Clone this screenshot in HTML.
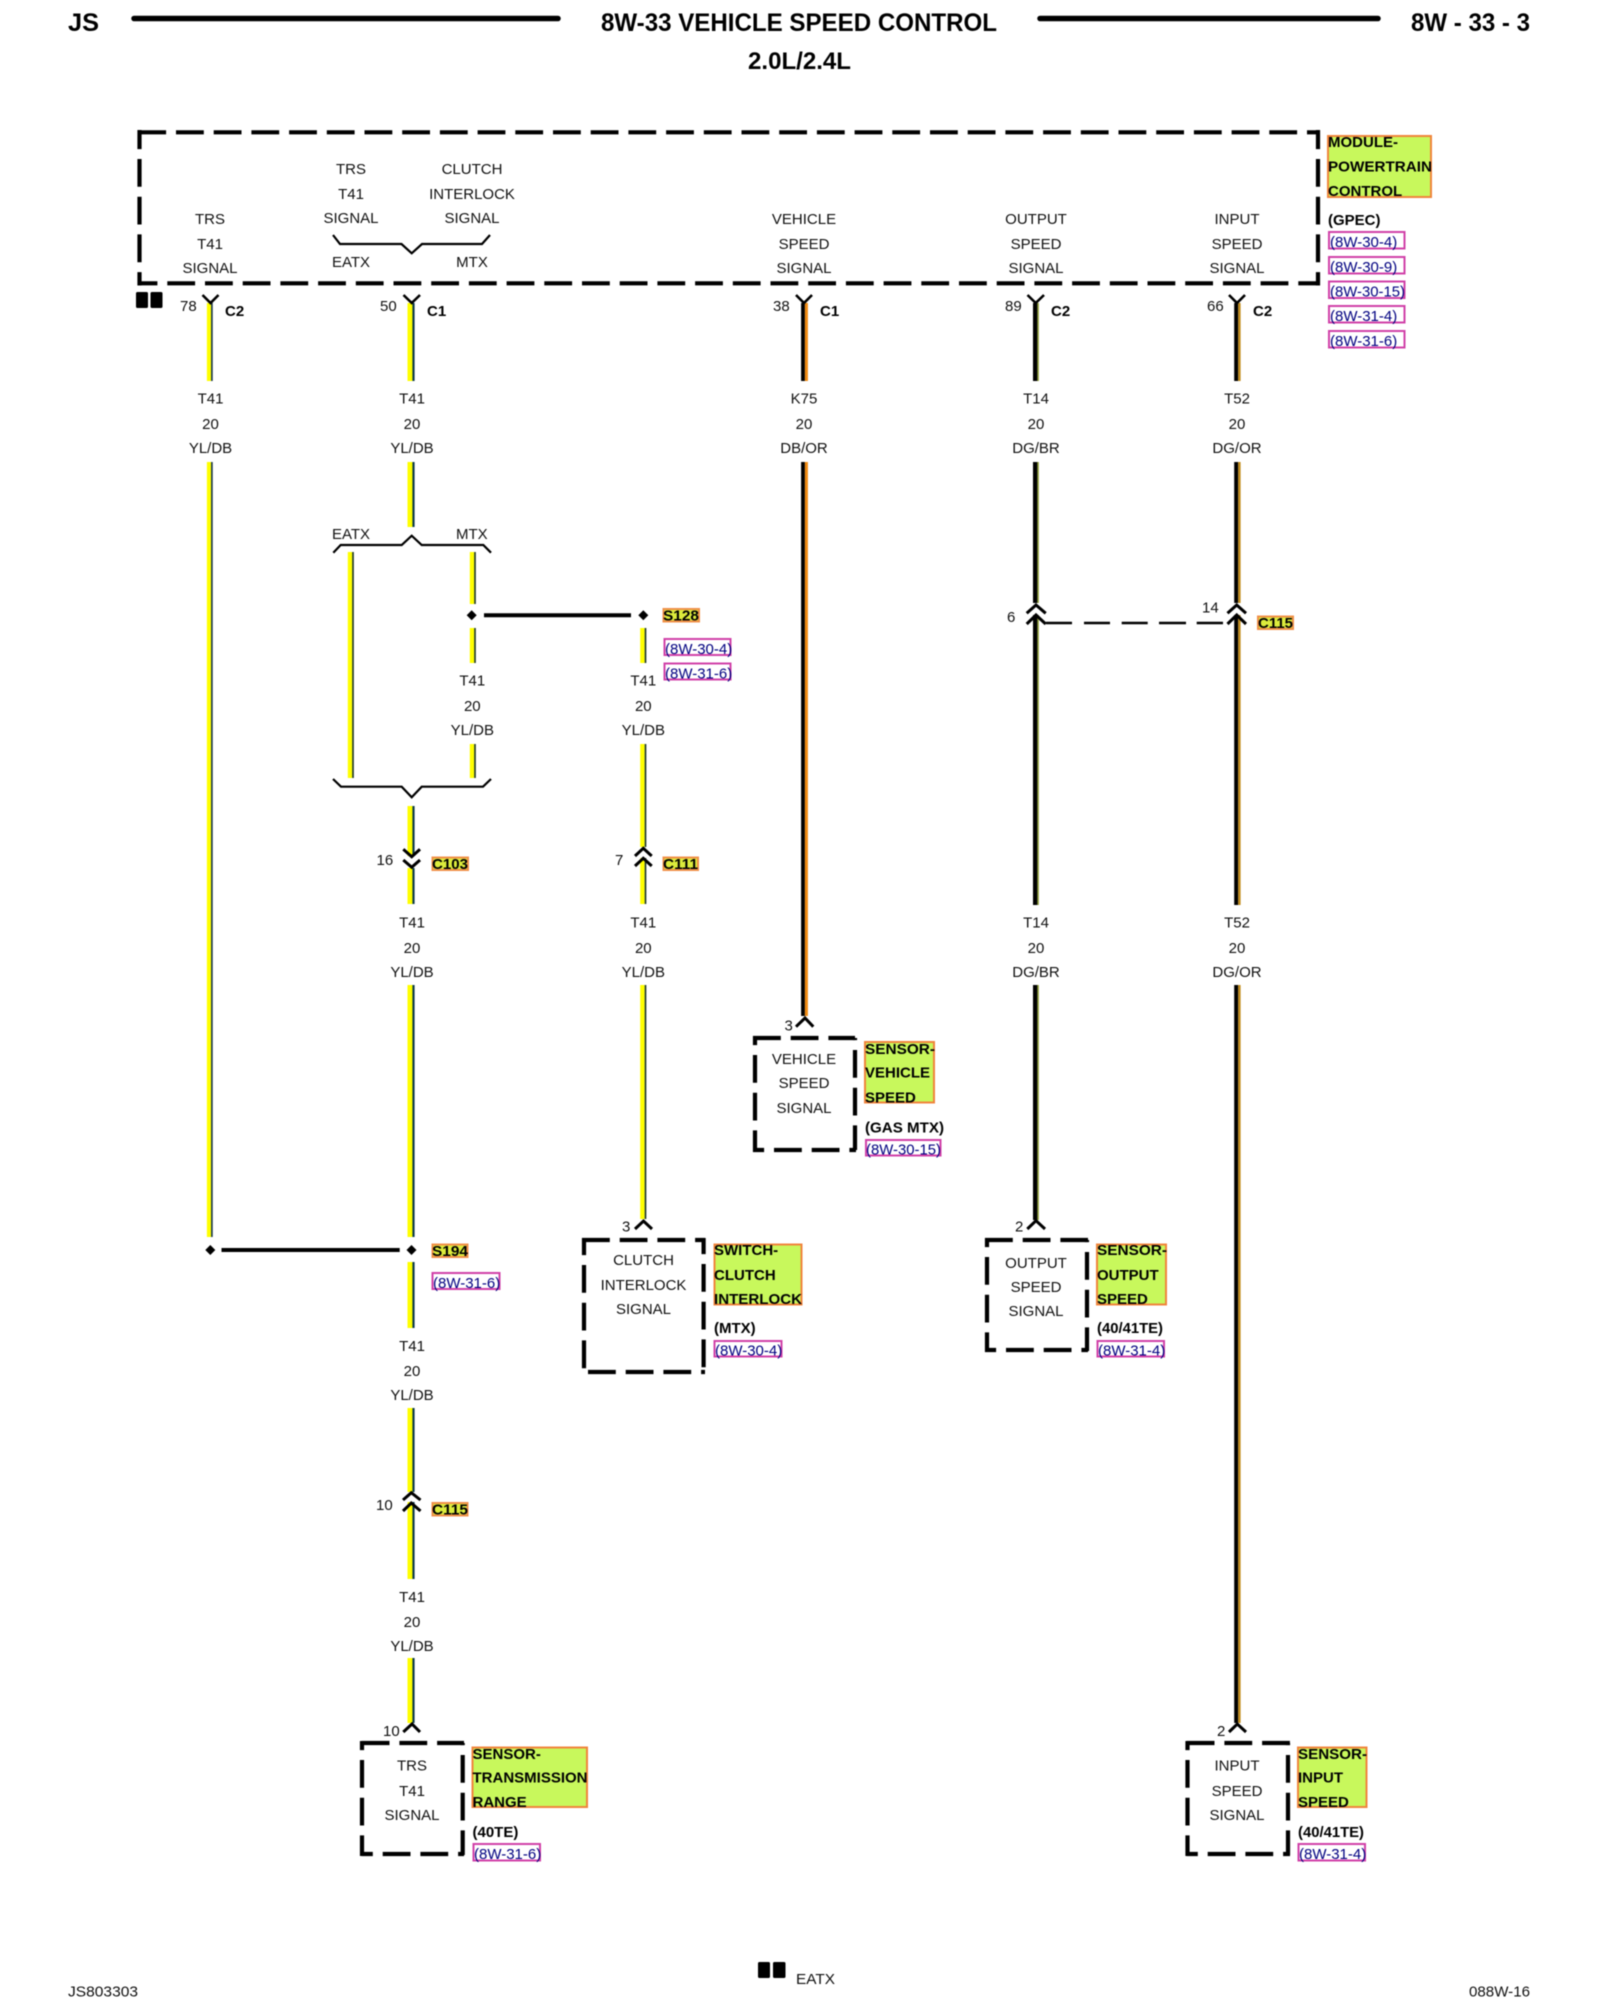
<!DOCTYPE html>
<html lang="en"><head><meta charset="utf-8"><title>8W-33 Vehicle Speed Control</title>
<style>
html,body{margin:0;padding:0;background:#fff}
svg{display:block;filter:blur(.45px)}
text{font-family:"Liberation Sans",sans-serif;font-size:15px;fill:#111}
.m{text-anchor:middle}
.b{font-weight:bold;fill:#000}
.r{fill:#000080}
.h{fill:#c8f85c;stroke:#f0843c;stroke-width:2}
.s{fill:#dcec3c;stroke:#f09048;stroke-width:2}
.f{fill:#fff;stroke:#d040a8;stroke-width:2}
.d{stroke:#000;stroke-width:4.2;stroke-dasharray:27.8 9.9;fill:none}
.c{stroke:#000;stroke-width:3;fill:none}
.k{stroke:#000;stroke-width:2.2;fill:none}
</style></head><body>
<svg width="1600" height="2000" viewBox="0 0 1600 2000" xmlns="http://www.w3.org/2000/svg">
<rect width="1600" height="2000" fill="#fff"/>

<!-- header -->
<line x1="134" y1="18.5" x2="558" y2="18.5" stroke="#000" stroke-width="5.5" stroke-linecap="round"/>
<line x1="1040" y1="18.5" x2="1378" y2="18.5" stroke="#000" stroke-width="5.5" stroke-linecap="round"/>
<text class="b" x="68" y="31" style="font-size:25px" textLength="31" lengthAdjust="spacingAndGlyphs">JS</text>
<text class="b" x="601" y="31" style="font-size:25px" textLength="396" lengthAdjust="spacingAndGlyphs">8W-33 VEHICLE SPEED CONTROL</text>
<text class="b" x="748" y="69" style="font-size:24px" textLength="103" lengthAdjust="spacingAndGlyphs">2.0L/2.4L</text>
<text class="b" x="1411" y="31" style="font-size:25px" textLength="119" lengthAdjust="spacingAndGlyphs">8W - 33 - 3</text>

<!-- module box -->
<line class="d" x1="138.3" y1="132.3" x2="1320" y2="132.3"/>
<line class="d" x1="138" y1="283.3" x2="1320" y2="283.3" style="stroke-dashoffset:8.4"/>
<line class="d" x1="139.5" y1="130" x2="139.5" y2="285.5" style="stroke-dashoffset:8.7"/>
<line class="d" x1="1318" y1="130" x2="1318" y2="285.5" style="stroke-dashoffset:8.7"/>
<rect x="136" y="292" width="12" height="16" rx="1.5"/>
<rect x="150.5" y="292" width="12" height="16" rx="1.5"/>

<g class="m">
<text class="m" x="210" y="224">TRS</text><text class="m" x="210" y="249">T41</text><text class="m" x="210" y="273">SIGNAL</text>
<text class="m" x="351" y="174">TRS</text><text class="m" x="351" y="199">T41</text><text class="m" x="351" y="223">SIGNAL</text>
<text class="m" x="472" y="174">CLUTCH</text><text class="m" x="472" y="199">INTERLOCK</text><text class="m" x="472" y="223">SIGNAL</text>
<text class="m" x="351" y="267">EATX</text><text class="m" x="472" y="267">MTX</text>
<text class="m" x="804" y="224">VEHICLE</text><text class="m" x="804" y="249">SPEED</text><text class="m" x="804" y="273">SIGNAL</text>
<text class="m" x="1036" y="224">OUTPUT</text><text class="m" x="1036" y="249">SPEED</text><text class="m" x="1036" y="273">SIGNAL</text>
<text class="m" x="1237" y="224">INPUT</text><text class="m" x="1237" y="249">SPEED</text><text class="m" x="1237" y="273">SIGNAL</text>
</g>
<path class="k" d="M333 235L340 244H401.5L411.7 253.3L422 244H482L490 235"/>

<!-- module labels -->
<rect class="h" x="1328" y="136" width="103" height="61"/>
<text class="b" x="1328" y="147">MODULE-</text>
<text class="b" x="1328" y="171.7" textLength="104" lengthAdjust="spacingAndGlyphs">POWERTRAIN</text>
<text class="b" x="1328" y="196">CONTROL</text>
<text class="b" x="1328" y="225">(GPEC)</text>
<rect class="f" x="1329" y="232" width="75.5" height="16.5"/><text class="r" x="1330" y="247">(8W-30-4)</text>
<rect class="f" x="1329" y="257" width="75.5" height="16.5"/><text class="r" x="1330" y="272">(8W-30-9)</text>
<rect class="f" x="1329" y="281.5" width="75.5" height="16.5"/><text class="r" x="1330" y="296.5" textLength="75" lengthAdjust="spacingAndGlyphs">(8W-30-15)</text>
<rect class="f" x="1329" y="306" width="75.5" height="16.5"/><text class="r" x="1330" y="321">(8W-31-4)</text>
<rect class="f" x="1329" y="331" width="75.5" height="16.5"/><text class="r" x="1330" y="346">(8W-31-6)</text>

<!-- wires: yellow -->
<path stroke="#ffff00" stroke-width="4.2" fill="none" d="M209 303V381M209 462V1237"/>
<path stroke="#123040" stroke-width="1.6" fill="none" d="M211.9 303V381M211.9 462V1237"/>
<path stroke="#ffff00" stroke-width="5" fill="none" d="M410 303V381M410 462V527M410 806V856M410 868V904M410 985V1237M410 1262V1328M410 1408V1492M410 1502V1579M410 1658V1723"/>
<path stroke="#0c3a48" stroke-width="2.2" fill="none" d="M413.5 303V381M413.5 462V527M413.5 806V856M413.5 868V904M413.5 985V1237M413.5 1262V1328M413.5 1408V1492M413.5 1502V1579M413.5 1658V1723"/>
<path stroke="#ffff00" stroke-width="4.4" fill="none" d="M350 552V778M472 552V604M472 628V663M472 744V778M642.4 628V663M642.4 744V847M642.4 858V904M642.4 985V1219"/>
<path stroke="#163218" stroke-width="1.6" fill="none" d="M353 552V778M475 552V604M475 628V663M475 744V778M645.5 628V663M645.5 744V847M645.5 858V904M645.5 985V1219"/>
<!-- wire 3 DB/OR -->
<path stroke="#000" stroke-width="3.8" fill="none" d="M803 303V381M803 462V1016"/>
<path stroke="#f08a10" stroke-width="3" fill="none" d="M806.4 303V381M806.4 462V1016"/>
<!-- wire 4 DG/BR -->
<path stroke="#000" stroke-width="4.4" fill="none" d="M1035.2 303V381M1035.2 462V603M1035.2 615V905M1035.2 985V1220"/>
<path stroke="#8a9a30" stroke-width="1.4" fill="none" d="M1038.1 303V381M1038.1 462V603M1038.1 615V905M1038.1 985V1220"/>
<!-- wire 5 DG/OR -->
<path stroke="#000" stroke-width="4" fill="none" d="M1236.2 303V381M1236.2 462V603M1236.2 615V905M1236.2 985V1723"/>
<path stroke="#c08a18" stroke-width="2.4" fill="none" d="M1239.4 303V381M1239.4 462V603M1239.4 615V905M1239.4 985V1723"/>

<!-- top Y connectors -->
<path class="k" d="M202.5 295L210.5 303L218.5 295M403.5 295L411.7 303L420 295M796 295L804 303L812 295M1027.5 295L1035.7 303L1044 295M1229 295L1237 303L1245 295" style="stroke-width:2.6"/>
<text x="180" y="311">78</text><text x="380" y="311">50</text><text x="773" y="311">38</text><text x="1005" y="311">89</text><text x="1207" y="311">66</text>
<text class="b" x="225" y="316">C2</text><text class="b" x="427" y="316">C1</text><text class="b" x="820" y="316">C1</text><text class="b" x="1051" y="316">C2</text><text class="b" x="1253" y="316">C2</text>

<!-- wire labels row 1 -->
<text class="m" x="210.5" y="403.5">T41</text><text class="m" x="210.5" y="429">20</text><text class="m" x="210.5" y="453">YL/DB</text>
<text class="m" x="412" y="403.5">T41</text><text class="m" x="412" y="429">20</text><text class="m" x="412" y="453">YL/DB</text>
<text class="m" x="804" y="403.5">K75</text><text class="m" x="804" y="429">20</text><text class="m" x="804" y="453">DB/OR</text>
<text class="m" x="1036" y="403.5">T14</text><text class="m" x="1036" y="429">20</text><text class="m" x="1036" y="453">DG/BR</text>
<text class="m" x="1237" y="403.5">T52</text><text class="m" x="1237" y="429">20</text><text class="m" x="1237" y="453">DG/OR</text>

<!-- EATX/MTX braces -->
<text x="332" y="539">EATX</text><text x="456" y="539">MTX</text>
<path class="k" d="M333.3 552.7L340.7 545H401.7L411.7 535.7L421.7 545H483.3L491 552.7"/>
<path class="k" d="M333 779L341 786.7H401.7L411.7 797.3L421.7 786.7H483L491 779"/>

<!-- S128 splice -->
<polygon points="471.7,610.3 476.7,615.3 471.7,620.3 466.7,615.3"/>
<polygon points="643.3,610.3 648.3,615.3 643.3,620.3 638.3,615.3"/>
<line x1="484" y1="615.3" x2="631" y2="615.3" stroke="#000" stroke-width="4"/>
<rect class="s" x="663.5" y="609" width="35.5" height="12.5"/><text class="b" x="663" y="620.5" textLength="36" lengthAdjust="spacingAndGlyphs">S128</text>
<rect class="f" x="664.5" y="639" width="66" height="16"/><text class="r" x="665" y="654">(8W-30-4)</text>
<rect class="f" x="664.5" y="663.5" width="66" height="16"/><text class="r" x="665" y="678.5">(8W-31-6)</text>

<text class="m" x="472.3" y="685.5">T41</text><text class="m" x="472.3" y="711">20</text><text class="m" x="472.3" y="735">YL/DB</text>
<text class="m" x="643.3" y="685.5">T41</text><text class="m" x="643.3" y="711">20</text><text class="m" x="643.3" y="735">YL/DB</text>

<!-- C103 -->
<path class="c" d="M403.3 849.3L411.7 856.7L420 849.3M403.3 860L411.7 867.3L420 860"/>
<text x="376.5" y="865">16</text>
<rect class="s" x="432.5" y="857.5" width="35.5" height="12.5"/><text class="b" x="432" y="869" textLength="36" lengthAdjust="spacingAndGlyphs">C103</text>
<!-- C111 -->
<path class="c" d="M635 856L643.3 848.3L651.7 856M635 866L643.3 858.3L651.7 866"/>
<text x="615" y="865">7</text>
<rect class="s" x="663.5" y="857.5" width="34.5" height="12.5"/><text class="b" x="663" y="869" textLength="35" lengthAdjust="spacingAndGlyphs">C111</text>

<!-- C115 junction -->
<path class="c" d="M1026.7 613.3L1036 605L1045.7 613.3M1026.7 624L1036 615L1045.7 624M1227.5 613.3L1236.7 605L1246 613.3M1227.5 624L1236.7 615L1246 624"/>
<path stroke="#000" stroke-width="2.6" fill="none" d="M1046 623H1072M1084 623H1110M1121.7 623H1147.7M1159 623H1186M1196.7 623H1223"/>
<text x="1007" y="622">6</text><text x="1202" y="612.7">14</text>
<rect class="s" x="1258" y="616.5" width="35" height="12.5"/><text class="b" x="1258" y="628" textLength="35" lengthAdjust="spacingAndGlyphs">C115</text>

<!-- wire labels row 2 -->
<text class="m" x="412" y="927.5">T41</text><text class="m" x="412" y="953">20</text><text class="m" x="412" y="977">YL/DB</text>
<text class="m" x="643.3" y="927.5">T41</text><text class="m" x="643.3" y="953">20</text><text class="m" x="643.3" y="977">YL/DB</text>
<text class="m" x="1036" y="927.5">T14</text><text class="m" x="1036" y="953">20</text><text class="m" x="1036" y="977">DG/BR</text>
<text class="m" x="1237" y="927.5">T52</text><text class="m" x="1237" y="953">20</text><text class="m" x="1237" y="977">DG/OR</text>

<!-- vehicle sensor -->
<path class="c" d="M796 1026.7L805 1018L813.3 1026.7"/>
<text x="784.5" y="1030.7">3</text>
<line class="d" x1="753" y1="1038" x2="855" y2="1038"/>
<line class="d" x1="855" y1="1038" x2="855" y2="1150" style="stroke-dashoffset:25.7"/>
<line class="d" x1="753" y1="1150" x2="856" y2="1150" style="stroke-dashoffset:16.7"/>
<line class="d" x1="755" y1="1036" x2="755" y2="1152" style="stroke-dashoffset:18.7"/>
<text class="m" x="804" y="1064">VEHICLE</text><text class="m" x="804" y="1088">SPEED</text><text class="m" x="804" y="1113">SIGNAL</text>
<rect class="h" x="865" y="1042" width="69" height="60.5"/>
<text class="b" x="865" y="1054" textLength="70" lengthAdjust="spacingAndGlyphs">SENSOR-</text>
<text class="b" x="865" y="1077.7">VEHICLE</text><text class="b" x="865" y="1102.7">SPEED</text>
<text class="b" x="865" y="1132.7" textLength="79" lengthAdjust="spacingAndGlyphs">(GAS MTX)</text>
<rect class="f" x="866" y="1140" width="74.5" height="15.5"/><text class="r" x="866" y="1154.5" textLength="75" lengthAdjust="spacingAndGlyphs">(8W-30-15)</text>

<!-- S194 splice -->
<polygon points="210.3,1245 215.3,1250 210.3,1255 205.3,1250"/>
<polygon points="411.5,1245 416.5,1250 411.5,1255 406.5,1250"/>
<line x1="221.5" y1="1250" x2="399.7" y2="1250" stroke="#000" stroke-width="4"/>
<rect class="s" x="432.5" y="1244.5" width="35" height="12.5"/><text class="b" x="432" y="1256" textLength="36" lengthAdjust="spacingAndGlyphs">S194</text>
<rect class="f" x="432.5" y="1273" width="67" height="16"/><text class="r" x="433" y="1288">(8W-31-6)</text>

<!-- clutch switch -->
<path class="c" d="M635 1229L643.5 1221L652 1229"/>
<text x="622" y="1231.7">3</text>
<line class="d" x1="582" y1="1240" x2="705" y2="1240"/>
<line class="d" x1="703.6" y1="1238" x2="703.6" y2="1374" style="stroke-dashoffset:11.7"/>
<line class="d" x1="582" y1="1372" x2="705" y2="1372" style="stroke-dashoffset:31.7"/>
<line class="d" x1="584" y1="1238" x2="584" y2="1374" style="stroke-dashoffset:10.7"/>
<text class="m" x="643.5" y="1265">CLUTCH</text><text class="m" x="643.5" y="1290">INTERLOCK</text><text class="m" x="643.5" y="1314">SIGNAL</text>
<rect class="h" x="714.5" y="1244.5" width="87" height="60"/>
<text class="b" x="714" y="1255">SWITCH-</text><text class="b" x="714" y="1280">CLUTCH</text>
<text class="b" x="714" y="1304" textLength="88" lengthAdjust="spacingAndGlyphs">INTERLOCK</text>
<text class="b" x="714" y="1333">(MTX)</text>
<rect class="f" x="714.5" y="1341" width="67" height="15.5"/><text class="r" x="715" y="1355.5">(8W-30-4)</text>

<!-- output sensor -->
<path class="c" d="M1027.3 1229L1036 1220.7L1045 1229"/>
<text x="1015" y="1231.7">2</text>
<line class="d" x1="985" y1="1240" x2="1088" y2="1240"/>
<line class="d" x1="1087" y1="1240" x2="1087" y2="1351" style="stroke-dashoffset:25.7"/>
<line class="d" x1="985" y1="1350" x2="1088" y2="1350" style="stroke-dashoffset:16.7"/>
<line class="d" x1="987" y1="1238" x2="987" y2="1352" style="stroke-dashoffset:18.7"/>
<text class="m" x="1036" y="1268">OUTPUT</text><text class="m" x="1036" y="1292">SPEED</text><text class="m" x="1036" y="1316">SIGNAL</text>
<rect class="h" x="1097" y="1244.5" width="69" height="60"/>
<text class="b" x="1097" y="1255" textLength="70" lengthAdjust="spacingAndGlyphs">SENSOR-</text>
<text class="b" x="1097" y="1280">OUTPUT</text><text class="b" x="1097" y="1304">SPEED</text>
<text class="b" x="1097" y="1333" textLength="66" lengthAdjust="spacingAndGlyphs">(40/41TE)</text>
<rect class="f" x="1097.5" y="1341" width="66.5" height="15.5"/><text class="r" x="1098" y="1355.5">(8W-31-4)</text>

<!-- lower T41 -->
<text class="m" x="412" y="1351">T41</text><text class="m" x="412" y="1376">20</text><text class="m" x="412" y="1400">YL/DB</text>
<path class="c" d="M403 1500L411.3 1492.7L420.5 1500M403 1511L411.3 1503L420.5 1511"/>
<text x="376" y="1510">10</text>
<rect class="s" x="432.5" y="1503" width="35" height="12.5"/><text class="b" x="432" y="1514.5" textLength="36" lengthAdjust="spacingAndGlyphs">C115</text>
<text class="m" x="412" y="1602">T41</text><text class="m" x="412" y="1627">20</text><text class="m" x="412" y="1651">YL/DB</text>

<!-- TRS sensor -->
<path class="c" d="M403.3 1732L412 1724L420 1732"/>
<text x="383" y="1736">10</text>
<line class="d" x1="361.7" y1="1743" x2="464" y2="1743"/>
<line class="d" x1="462.7" y1="1743" x2="462.7" y2="1855" style="stroke-dashoffset:25.7"/>
<line class="d" x1="361.7" y1="1854" x2="464" y2="1854" style="stroke-dashoffset:16.7"/>
<line class="d" x1="362" y1="1741" x2="362" y2="1856" style="stroke-dashoffset:18.7"/>
<text class="m" x="412" y="1770.7">TRS</text><text class="m" x="412" y="1796">T41</text><text class="m" x="412" y="1820">SIGNAL</text>
<rect class="h" x="472.5" y="1747.5" width="114.5" height="59.5"/>
<text class="b" x="472.5" y="1759">SENSOR-</text>
<text class="b" x="472.5" y="1782.7" textLength="115" lengthAdjust="spacingAndGlyphs">TRANSMISSION</text>
<text class="b" x="472.5" y="1807">RANGE</text>
<text class="b" x="472.5" y="1837">(40TE)</text>
<rect class="f" x="473.5" y="1844" width="66.5" height="16.5"/><text class="r" x="474" y="1859">(8W-31-6)</text>

<!-- input sensor -->
<path class="c" d="M1229 1732L1237.3 1724L1246 1732"/>
<text x="1217" y="1736">2</text>
<line class="d" x1="1186.7" y1="1743" x2="1290" y2="1743"/>
<line class="d" x1="1288" y1="1743" x2="1288" y2="1855" style="stroke-dashoffset:25.7"/>
<line class="d" x1="1186.7" y1="1854" x2="1290" y2="1854" style="stroke-dashoffset:16.7"/>
<line class="d" x1="1187.5" y1="1741" x2="1187.5" y2="1856" style="stroke-dashoffset:18.7"/>
<text class="m" x="1237" y="1770.7">INPUT</text><text class="m" x="1237" y="1796">SPEED</text><text class="m" x="1237" y="1820">SIGNAL</text>
<rect class="h" x="1298" y="1747.5" width="68.5" height="59.5"/>
<text class="b" x="1298" y="1759" textLength="69" lengthAdjust="spacingAndGlyphs">SENSOR-</text>
<text class="b" x="1298" y="1782.7">INPUT</text><text class="b" x="1298" y="1807">SPEED</text>
<text class="b" x="1298" y="1837" textLength="66" lengthAdjust="spacingAndGlyphs">(40/41TE)</text>
<rect class="f" x="1298.5" y="1844" width="66.5" height="16.5"/><text class="r" x="1299" y="1859">(8W-31-4)</text>

<!-- footer -->
<rect x="758" y="1962" width="12" height="16" rx="1.5"/>
<rect x="773" y="1962" width="12.5" height="16" rx="1.5"/>
<text x="796" y="1984" textLength="39" lengthAdjust="spacingAndGlyphs">EATX</text>
<text x="68" y="1996.5" textLength="70" lengthAdjust="spacingAndGlyphs">JS803303</text>
<text x="1469" y="1996.5" textLength="61" lengthAdjust="spacingAndGlyphs">088W-16</text>
</svg>
</body></html>
